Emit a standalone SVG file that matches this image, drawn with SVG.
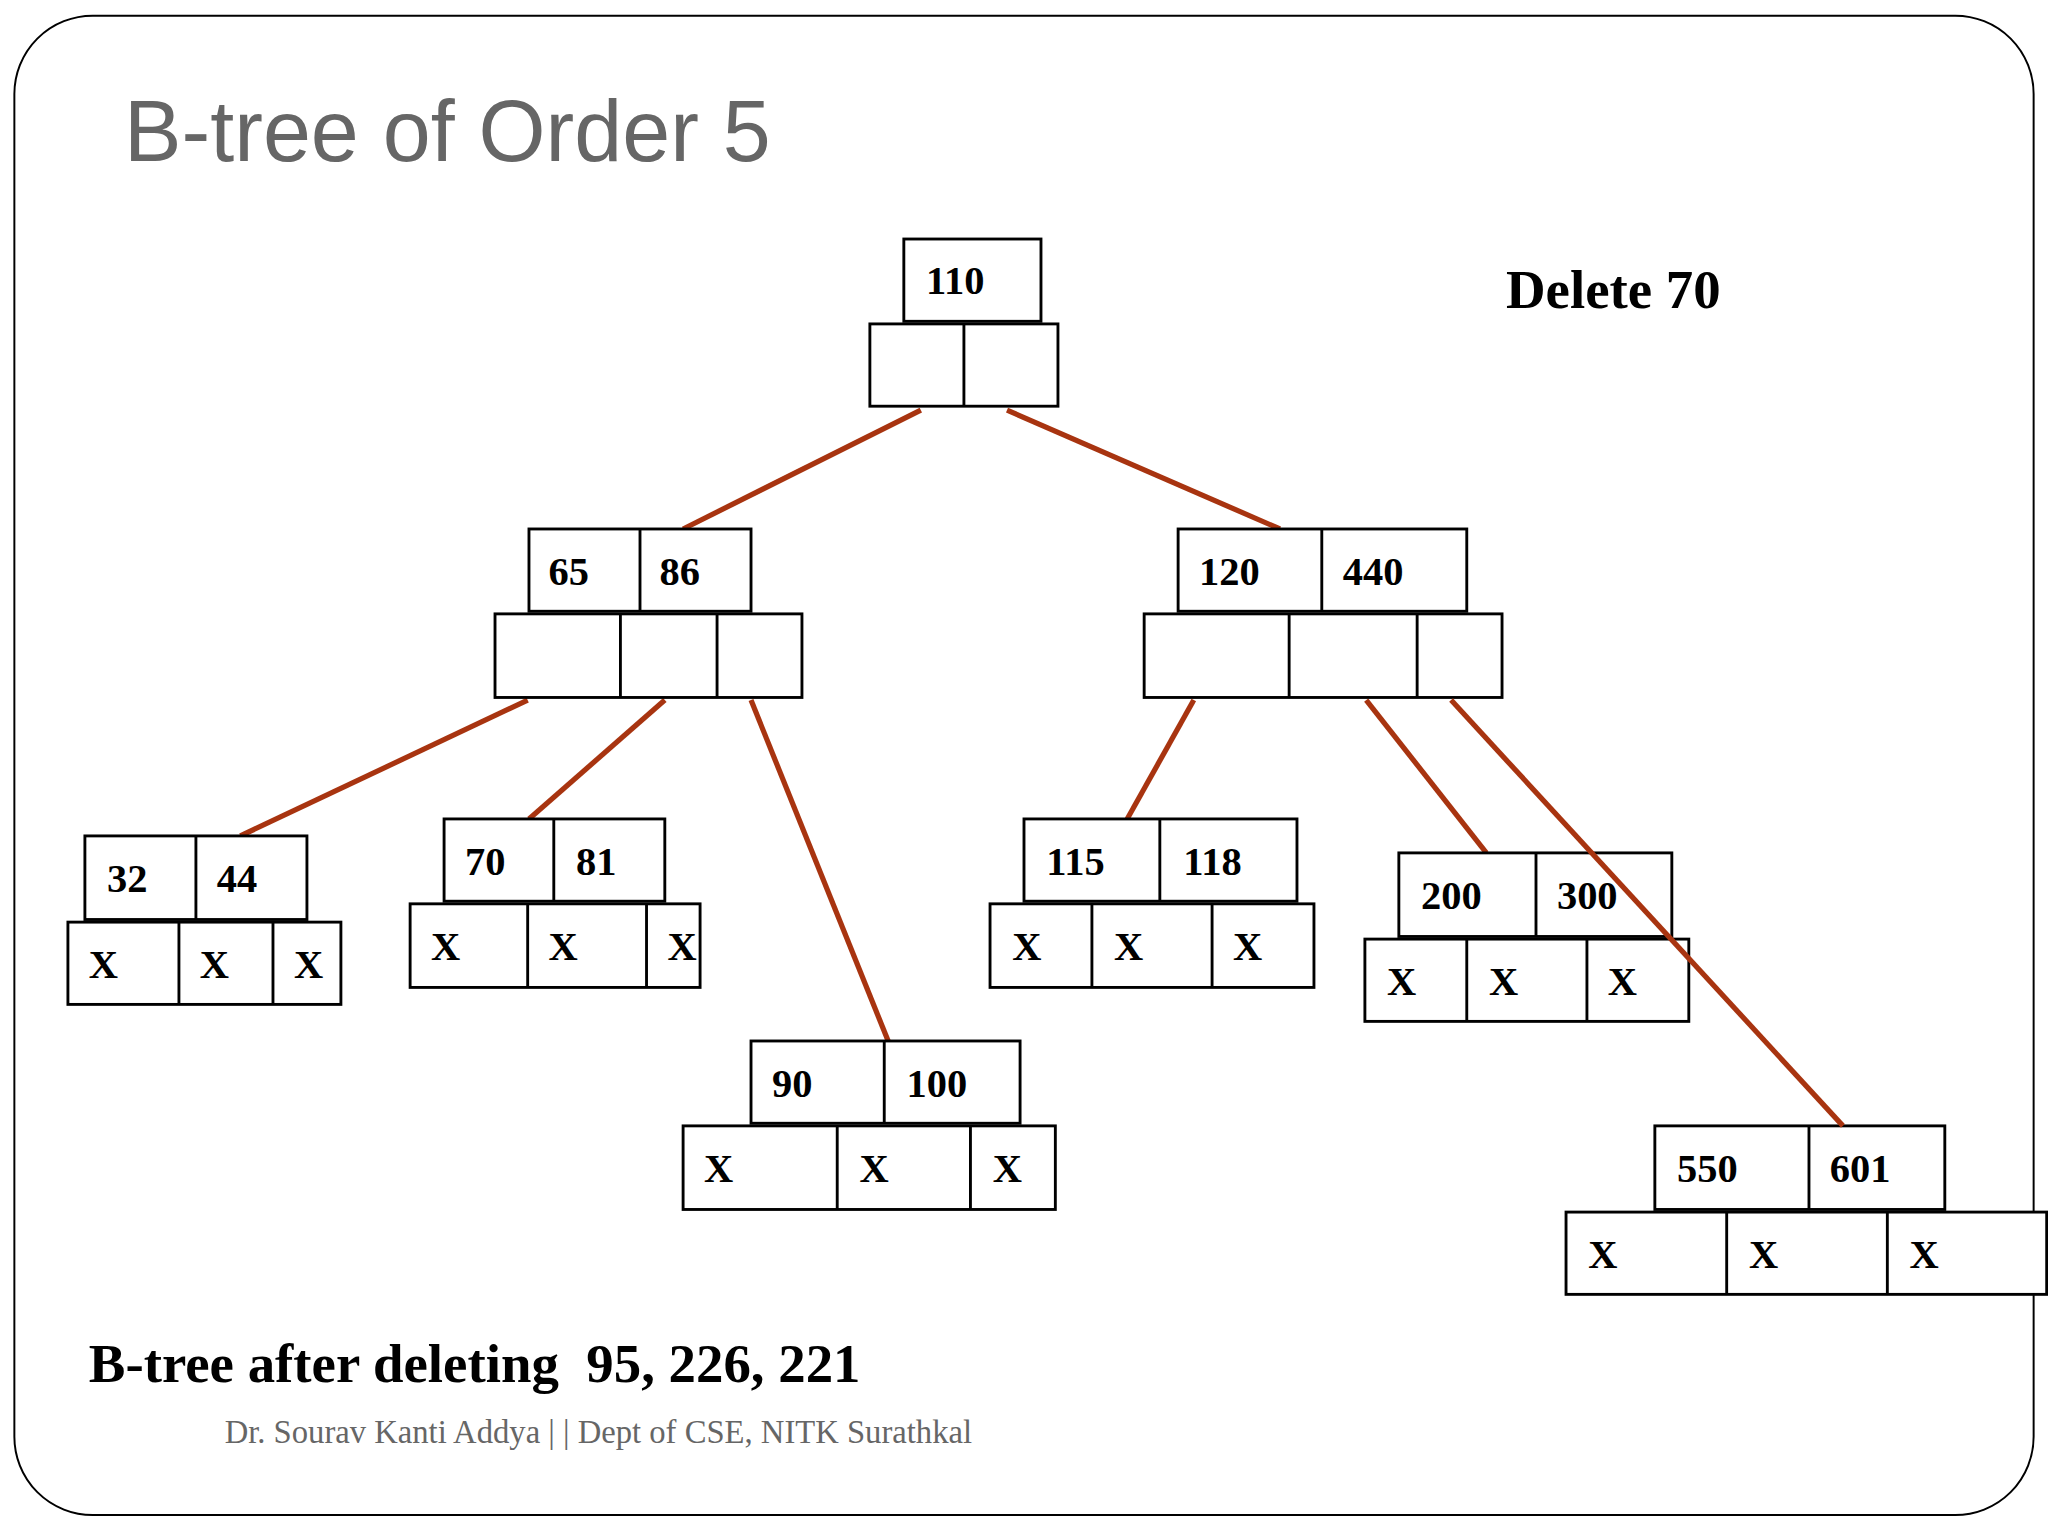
<svg xmlns="http://www.w3.org/2000/svg" width="2048" height="1536" viewBox="0 0 2048 1536">
<style>
.b{fill:#fff;stroke:#000;stroke-width:2.2}
.d{stroke:#000;stroke-width:2.2}
.t{font-family:"Liberation Serif",serif;font-weight:bold;font-size:31px;fill:#000}
.e{stroke:#a83410;stroke-width:4;fill:none}
</style>
<rect width="2048" height="1536" fill="#fff"/>
<g transform="scale(1.30612)">
<rect x="11" y="12" width="1546" height="1148" rx="60" fill="#fff" stroke="#000" stroke-width="1.5"/>
<text x="95" y="123" font-family="Liberation Sans,sans-serif" font-size="66" fill="#666">B-tree of Order 5</text>
<text x="1153" y="236" font-family="Liberation Serif,serif" font-weight="bold" font-size="42">Delete 70</text>
<g id="connectors">
<line class="e" x1="705" y1="314" x2="523" y2="405"/>
<line class="e" x1="771" y1="314" x2="980" y2="405"/>
<line class="e" x1="404" y1="536" x2="184" y2="640"/>
<line class="e" x1="509" y1="536" x2="405" y2="627"/>
<line class="e" x1="575" y1="536" x2="680" y2="797"/>
<line class="e" x1="914" y1="536" x2="863" y2="627"/>
<line class="e" x1="1046" y1="536" x2="1138" y2="653"/>
</g>
<g id="root">
<rect class="b" x="692" y="183" width="105" height="63"/><text class="t" x="709" y="225">110</text>
<rect class="b" x="666" y="248" width="144" height="63"/><line class="d" x1="738" y1="248" x2="738" y2="311"/>
</g>
<g id="n6586">
<rect class="b" x="405" y="405" width="170" height="63"/><line class="d" x1="490" y1="405" x2="490" y2="468"/>
<text class="t" x="420" y="448">65</text><text class="t" x="505" y="448">86</text>
<rect class="b" x="379" y="470" width="235" height="64"/><line class="d" x1="475" y1="470" x2="475" y2="534"/><line class="d" x1="549" y1="470" x2="549" y2="534"/>
</g>
<g id="n120440">
<rect class="b" x="902" y="405" width="221" height="63"/><line class="d" x1="1012" y1="405" x2="1012" y2="468"/>
<text class="t" x="918" y="448">120</text><text class="t" x="1028" y="448">440</text>
<rect class="b" x="876" y="470" width="274" height="64"/><line class="d" x1="987" y1="470" x2="987" y2="534"/><line class="d" x1="1085" y1="470" x2="1085" y2="534"/>
</g>
<g id="n3244">
<rect class="b" x="65" y="640" width="170" height="64"/><line class="d" x1="150" y1="640" x2="150" y2="704"/>
<text class="t" x="82" y="683">32</text><text class="t" x="166" y="683">44</text>
<rect class="b" x="52" y="706" width="209" height="63"/><line class="d" x1="137" y1="706" x2="137" y2="769"/><line class="d" x1="209" y1="706" x2="209" y2="769"/>
<text class="t" x="68" y="749">X</text><text class="t" x="153" y="749">X</text><text class="t" x="225" y="749">X</text>
</g>
<g id="n7081">
<rect class="b" x="340" y="627" width="169" height="63"/><line class="d" x1="424" y1="627" x2="424" y2="690"/>
<text class="t" x="356" y="670">70</text><text class="t" x="441" y="670">81</text>
<rect class="b" x="314" y="692" width="222" height="64"/><line class="d" x1="404" y1="692" x2="404" y2="756"/><line class="d" x1="495" y1="692" x2="495" y2="756"/>
<text class="t" x="330" y="735">X</text><text class="t" x="420" y="735">X</text><text class="t" x="511" y="735">X</text>
</g>
<g id="n90100">
<rect class="b" x="575" y="797" width="206" height="63"/><line class="d" x1="677" y1="797" x2="677" y2="860"/>
<text class="t" x="591" y="840">90</text><text class="t" x="694" y="840">100</text>
<rect class="b" x="523" y="862" width="285" height="64"/><line class="d" x1="641" y1="862" x2="641" y2="926"/><line class="d" x1="743" y1="862" x2="743" y2="926"/>
<text class="t" x="539" y="905">X</text><text class="t" x="658" y="905">X</text><text class="t" x="760" y="905">X</text>
</g>
<g id="n115118">
<rect class="b" x="784" y="627" width="209" height="63"/><line class="d" x1="888" y1="627" x2="888" y2="690"/>
<text class="t" x="801" y="670">115</text><text class="t" x="906" y="670">118</text>
<rect class="b" x="758" y="692" width="248" height="64"/><line class="d" x1="836" y1="692" x2="836" y2="756"/><line class="d" x1="928" y1="692" x2="928" y2="756"/>
<text class="t" x="775" y="735">X</text><text class="t" x="853" y="735">X</text><text class="t" x="944" y="735">X</text>
</g>
<g id="n200300">
<rect class="b" x="1071" y="653" width="209" height="64"/><line class="d" x1="1176" y1="653" x2="1176" y2="717"/>
<text class="t" x="1088" y="696">200</text><text class="t" x="1192" y="696">300</text>
<rect class="b" x="1045" y="719" width="248" height="63"/><line class="d" x1="1123" y1="719" x2="1123" y2="782"/><line class="d" x1="1215" y1="719" x2="1215" y2="782"/>
<text class="t" x="1062" y="762">X</text><text class="t" x="1140" y="762">X</text><text class="t" x="1231" y="762">X</text>
</g>
<g id="n550601">
<rect class="b" x="1267" y="862" width="222" height="64"/><line class="d" x1="1385" y1="862" x2="1385" y2="926"/>
<text class="t" x="1284" y="905">550</text><text class="t" x="1401" y="905">601</text>
<rect class="b" x="1199" y="928" width="368" height="63"/><line class="d" x1="1322" y1="928" x2="1322" y2="991"/><line class="d" x1="1445" y1="928" x2="1445" y2="991"/>
<text class="t" x="1216" y="971">X</text><text class="t" x="1339" y="971">X</text><text class="t" x="1462" y="971">X</text>
</g>
<line class="e" x1="1111" y1="536" x2="1411" y2="862"/>
<text x="68" y="1058" font-family="Liberation Serif,serif" font-weight="bold" font-size="42" xml:space="preserve">B-tree after deleting  95, 226, 221</text>
<text x="172" y="1105" font-family="Liberation Serif,serif" font-size="25" fill="#666">Dr. Sourav Kanti Addya | | Dept of CSE, NITK Surathkal</text>
</g>
</svg>
